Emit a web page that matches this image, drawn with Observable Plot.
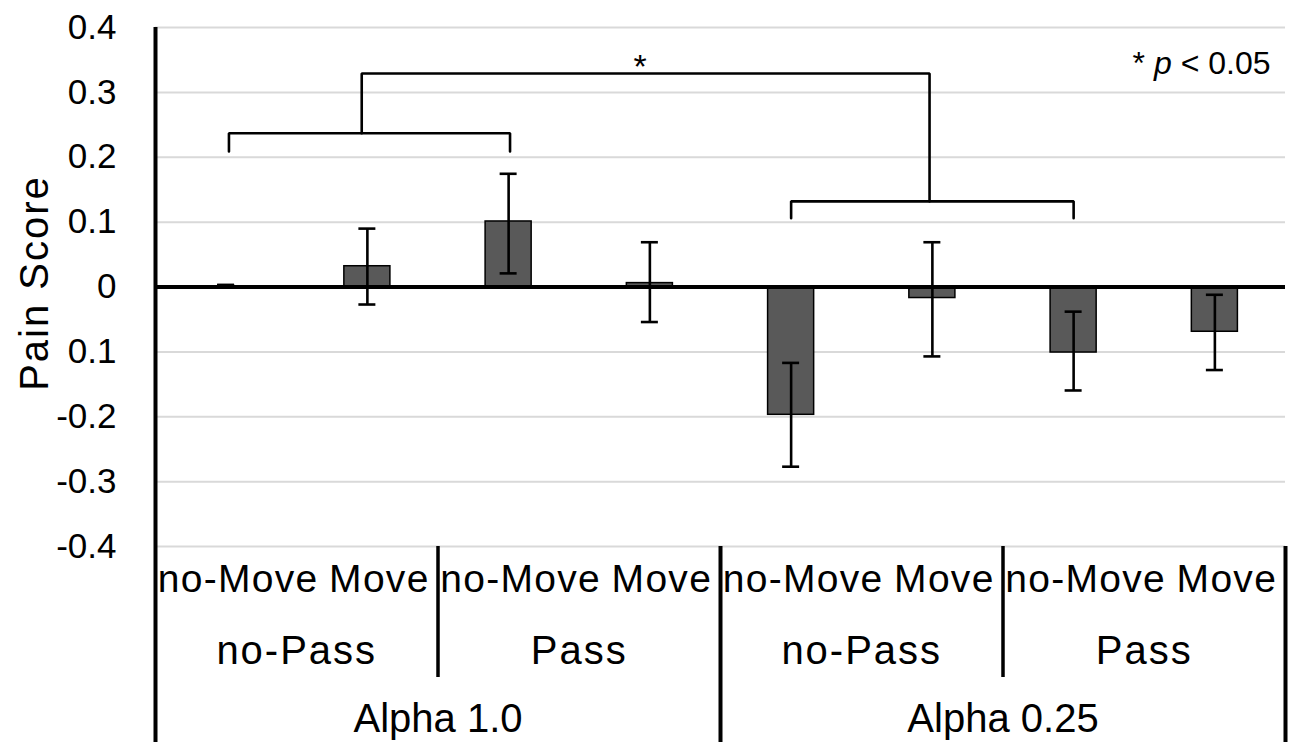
<!DOCTYPE html>
<html>
<head>
<meta charset="utf-8">
<script src="https://cdn.jsdelivr.net/npm/d3@7"></script>
<script src="https://cdn.jsdelivr.net/npm/@observablehq/plot@0.6"></script>
<style>
  html, body { margin: 0; padding: 0; background: #fff; }
  #chart { width: 1296px; height: 742px; }
</style>
</head>
<body>
<div id="chart"></div>
<script>
// ---- data ----
const moveLabels  = ["no-Move", "Move", "no-Move", "Move", "no-Move", "Move", "no-Move", "Move"];
const passLabels  = ["no-Pass", "Pass", "no-Pass", "Pass"];
const alphaLabels = ["Alpha 1.0", "Alpha 0.25"];
const means   = [0, 0.032, 0.101, 0.006, -0.197, -0.017, -0.101, -0.069];
const errHigh = [0.003, 0.090, 0.1745, 0.069, -0.117, 0.069, -0.038, -0.012];
const errLow  = [0.003, -0.027, 0.021, -0.054, -0.277, -0.107, -0.1595, -0.128];
const yTickValues = [0.4, 0.3, 0.2, 0.1, 0, -0.1, -0.2, -0.3, -0.4];
const yTickLabels = ["0.4", "0.3", "0.2", "0.1", "0", "0.1", "-0.2", "-0.3", "-0.4"];
const yLabel = "Pain Score";
// significance brackets (x in category units, y in score units)
const bracketFrom     = [0.52, 4.5, 1.46];
const bracketTo       = [2.51, 6.5, 5.48];
const bracketTop      = [0.237, 0.132, 0.329];
const bracketLeftEnd  = [0.209, 0.106, 0.237];
const bracketRightEnd = [0.209, 0.106, 0.132];
const starText = "*";
const starX = 3.43;

// ---- derived tables ----
const bars = means.map((m, i) => ({i, mean: m, hi: errHigh[i], lo: errLow[i], label: moveLabels[i]}));
const passRows = passLabels.map((t, j) => ({x: 2 * j + 1, t}));
const alphaRows = alphaLabels.map((t, j) => ({x: 4 * j + 2, t}));
const bracketPts = [];
bracketFrom.forEach((f, k) => {
  bracketPts.push({k, x: f, y: bracketLeftEnd[k]});
  bracketPts.push({k, x: f, y: bracketTop[k]});
  bracketPts.push({k, x: bracketTo[k], y: bracketTop[k]});
  bracketPts.push({k, x: bracketTo[k], y: bracketRightEnd[k]});
});
const tickMap = new Map(yTickValues.map((v, i) => [Math.round(v * 10), yTickLabels[i]]));

const font = "'Liberation Sans', Arial, Helvetica, sans-serif";

const chart = Plot.plot({
  width: 1296,
  height: 742,
  marginLeft: 155,
  marginRight: 11,
  marginTop: 27,
  marginBottom: 196,
  style: {fontFamily: font, background: "#fff", color: "#000"},
  x: {type: "linear", domain: [0, 8]},
  y: {domain: [-0.4, 0.4]},
  marks: [
    Plot.ruleY(yTickValues, {stroke: "#d9d9d9", strokeWidth: 2}),
    Plot.rect(bars, {
      x1: d => d.i, x2: d => d.i + 1, y1: () => 0, y2: "mean",
      insetLeft: 47.6, insetRight: 47.6,
      fill: "#595959", stroke: "#000", strokeWidth: 1.5
    }),
    Plot.ruleY([0], {stroke: "#000", strokeWidth: 4}),
    Plot.ruleX([0], {stroke: "#000", strokeWidth: 4}),
    Plot.ruleX(bars, {x: d => d.i + 0.5, y1: "lo", y2: "hi", stroke: "#000", strokeWidth: 2.6}),
    Plot.ruleY(bars, {x1: d => d.i + 0.5, x2: d => d.i + 0.5, y: "hi", insetLeft: -8.5, insetRight: -8.5, stroke: "#000", strokeWidth: 2.6}),
    Plot.ruleY(bars, {x1: d => d.i + 0.5, x2: d => d.i + 0.5, y: "lo", insetLeft: -8.5, insetRight: -8.5, stroke: "#000", strokeWidth: 2.6}),
    Plot.line(bracketPts, {x: "x", y: "y", z: "k", stroke: "#000", strokeWidth: 2.6, strokeLinejoin: "miter"}),
    Plot.text([starText], {
      x: () => starX, y: () => bracketTop[2],
      lineAnchor: "bottom", dy: 4, fontSize: 34, fill: "#000"
    }),
    Plot.text(["* p < 0.05"], {
      frameAnchor: "top-right", textAnchor: "end", lineAnchor: "bottom",
      dx: -15, dy: 46, fontSize: 32, fill: "#000"
    }),
    Plot.axisY({
      ticks: yTickValues, tickSize: 0, tickPadding: 39, label: null,
      tickFormat: d => tickMap.get(Math.round(d * 10)), fontSize: 35, fill: "#000"
    }),
    Plot.text([yLabel], {
      frameAnchor: "left", rotate: -90, textAnchor: "middle", lineAnchor: "bottom",
      dx: -108, dy: -4, fontSize: 40, fill: "#000"
    }),
    Plot.axisX({ticks: [2, 6], tickSize: 131, strokeWidth: 3.5, tickFormat: () => "", label: null}),
    Plot.axisX({ticks: [0, 4, 8], tickSize: 196, strokeWidth: 4, tickFormat: () => "", label: null}),
    Plot.text(bars, {
      x: d => d.i + 0.5, text: "label", frameAnchor: "bottom", lineAnchor: "bottom",
      dy: 45.7, dx: 12, fontSize: 39, fill: "#000"
    }),
    Plot.text(passRows, {
      x: "x", text: "t", frameAnchor: "bottom", lineAnchor: "bottom",
      dy: 117.3, fontSize: 40, fill: "#000"
    }),
    Plot.text(alphaRows, {
      x: "x", text: "t", frameAnchor: "bottom", lineAnchor: "bottom",
      dy: 185.7, fontSize: 40, fill: "#000"
    })
  ]
});

document.getElementById("chart").appendChild(chart);

// widen the lettering a little, like the original, and italicise p
const svg = d3.select(chart);
svg.selectAll("text").each(function () {
  const el = d3.select(this);
  const s = this.textContent;
  if (s === "no-Move" || s === "Move") el.style("letter-spacing", "1.3px");
  else if (s === "no-Pass" || s === "Pass") el.style("letter-spacing", "2px");
  else if (s === yLabel) el.style("letter-spacing", "2px");
  else if (s === "* p < 0.05") {
    el.text(null);
    el.append("tspan").text("* ");
    el.append("tspan").style("font-style", "italic").text("p");
    el.append("tspan").text(" < 0.05");
  }
});
</script>
</body>
</html>
